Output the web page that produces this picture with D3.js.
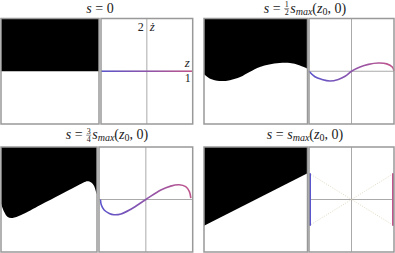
<!DOCTYPE html>
<html>
<head>
<meta charset="utf-8">
<script src="https://cdn.jsdelivr.net/npm/d3@7"></script>
<style>
  body { margin: 0; background: #fff; }
</style>
</head>
<body>
<svg id="chart"></svg>
<script>
// boundary of the black region in each left image: [x (0..1), zdot]
const boundaryA = [[0, 0], [1, 0]];
const boundaryB = [[0, -0.11], [0.06, -0.28], [0.15, -0.37], [0.25, -0.34], [0.35, -0.22], [0.44, -0.03],
  [0.54, 0.16], [0.63, 0.26], [0.73, 0.31], [0.83, 0.31], [0.92, 0.23], [1, 0.10]];
const boundaryC = [[0, -0.15], [0.034, -0.48], [0.07, -0.67], [0.12, -0.70], [0.21, -0.59], [0.41, -0.21],
  [0.62, 0.19], [0.77, 0.48], [0.86, 0.65], [0.90, 0.70], [0.94, 0.65], [0.97, 0.51], [0.99, 0.29], [1, 0.21]];
const boundaryD = [[0, -1], [1, 1]];

// phase curves: [z, zdot]
const phaseA = [[-1, 0], [1, 0]];
const phaseB = [[-1, 0], [-0.86, -0.21], [-0.70, -0.31], [-0.51, -0.37], [-0.31, -0.31], [-0.15, -0.19],
  [0, 0], [0.2, 0.16], [0.4, 0.26], [0.63, 0.31], [0.83, 0.28], [0.96, 0.16], [1, 0.02]];
const phaseC = [[-0.97, 0], [-0.95, -0.21], [-0.89, -0.40], [-0.78, -0.53], [-0.68, -0.58], [-0.53, -0.55],
  [-0.32, -0.37], [0, 0], [0.32, 0.36], [0.53, 0.51], [0.71, 0.56], [0.85, 0.49], [0.93, 0.30], [0.96, 0.05]];
const edgesD = [[[-1, -1], [-1, 1]], [[1, -1], [1, 1]]];
const crossD = [[[-1, 1], [1, -1]], [[-1, -1], [1, 1]]];

const axisLabels = { top: "2", zdot: "ż", z: "z", right: "1" };

const width = 395, height = 253;
const svg = d3.select("#chart").attr("width", width).attr("height", height)
  .attr("font-family", "'Liberation Serif', 'DejaVu Serif', serif");
const border = "#999", axisCol = "#aaa";
const blue = "#5a55cc", pink = "#c2558c";
const ink = "#222";

const smaxParts = [{ t: "s", i: true }, { t: "max", i: true, sub: true }, { t: "(" }, { t: "z", i: true }, { t: "0", sub: true }, { t: ", 0)" }];

const panels = [
  { key: "A", img: [1, 99], plot: [101, 192.7], y: [18.5, 124], title: [100, 12.5], bnd: boundaryA, phase: phaseA,
    titleParts: [{ t: "s", i: true }, { t: " = 0" }] },
  { key: "B", img: [204, 307.5], plot: [309, 394], y: [18.5, 124], title: [305, 12.5], bnd: boundaryB, phase: phaseB,
    titleParts: [{ t: "s", i: true }, { t: " = " }, { frac: ["1", "2"] }].concat(smaxParts) },
  { key: "C", img: [1, 97], plot: [99, 192.7], y: [147, 252], title: [107, 139], bnd: boundaryC, phase: phaseC,
    titleParts: [{ t: "s", i: true }, { t: " = " }, { frac: ["3", "4"] }].concat(smaxParts) },
  { key: "D", img: [204, 307.5], plot: [309, 394], y: [147, 252], title: [305, 138.5], bnd: boundaryD, phase: null,
    titleParts: [{ t: "s", i: true }, { t: " = " }].concat(smaxParts) }
];

const defs = svg.append("defs");

function drawTitle(parts, cx, baseline) {
  const g = svg.append("g");
  let x = 0;
  parts.forEach(p => {
    if (p.frac) {
      const n = g.append("text").attr("x", x + 0.5).attr("y", baseline - 5.3).attr("font-size", 8).attr("fill", ink).text(p.frac[0]);
      const d = g.append("text").attr("x", x + 0.5).attr("y", baseline + 2.8).attr("font-size", 8).attr("fill", ink).text(p.frac[1]);
      const w = Math.max(n.node().getComputedTextLength(), d.node().getComputedTextLength());
      g.append("line").attr("x1", x).attr("x2", x + w + 1).attr("y1", baseline - 3.8).attr("y2", baseline - 3.8)
        .attr("stroke", ink).attr("stroke-width", 0.5);
      x += w + 2;
    } else {
      const t = g.append("text").attr("x", x).attr("y", p.sub ? baseline + 2.4 : baseline)
        .attr("font-size", p.sub ? 10 : 14).attr("font-style", p.i ? "italic" : "normal")
        .attr("fill", ink).attr("xml:space", "preserve").text(p.t);
      x += t.node().getComputedTextLength();
    }
  });
  g.attr("transform", `translate(${cx - x / 2},0)`);
}

panels.forEach(p => {
  const xImg = d3.scaleLinear().domain([0, 1]).range(p.img);
  const yScale = d3.scaleLinear().domain([-2, 2]).range([p.y[1], p.y[0]]);
  const xPlot = d3.scaleLinear().domain([-1, 1]).range(p.plot);

  // left image: black above the boundary
  defs.append("clipPath").attr("id", "clip" + p.key).append("rect")
    .attr("x", p.img[0]).attr("y", p.y[0]).attr("width", p.img[1] - p.img[0]).attr("height", p.y[1] - p.y[0]);
  const area = d3.area().x(d => xImg(d[0])).y0(p.y[0]).y1(d => yScale(d[1])).curve(d3.curveCatmullRom);
  svg.append("path").datum(p.bnd).attr("d", area).attr("fill", "#000").attr("clip-path", `url(#clip${p.key})`);
  svg.append("rect").attr("x", p.img[0]).attr("y", p.y[0]).attr("width", p.img[1] - p.img[0]).attr("height", p.y[1] - p.y[0])
    .attr("fill", "none").attr("stroke", border).attr("stroke-width", 1.5);

  // right plot: axes
  svg.append("line").attr("x1", xPlot(0)).attr("x2", xPlot(0)).attr("y1", p.y[0]).attr("y2", p.y[1])
    .attr("stroke", axisCol).attr("stroke-width", 1);
  svg.append("line").attr("x1", p.plot[0]).attr("x2", p.plot[1]).attr("y1", yScale(0)).attr("y2", yScale(0))
    .attr("stroke", axisCol).attr("stroke-width", 1);

  const grad = defs.append("linearGradient").attr("id", "grad" + p.key).attr("gradientUnits", "userSpaceOnUse")
    .attr("x1", p.plot[0]).attr("x2", p.plot[1]).attr("y1", 0).attr("y2", 0);
  grad.append("stop").attr("offset", "0%").attr("stop-color", blue);
  grad.append("stop").attr("offset", "100%").attr("stop-color", pink);

  const line = d3.line().x(d => xPlot(d[0])).y(d => yScale(d[1])).curve(d3.curveCatmullRom);
  if (p.phase) {
    svg.append("path").datum(p.phase).attr("d", line).attr("fill", "none")
      .attr("stroke", `url(#grad${p.key})`).attr("stroke-width", 1.6);
  } else {
    svg.selectAll(".cross" + p.key).data(crossD).join("path").attr("class", "cross" + p.key)
      .attr("d", d3.line().x(d => xPlot(d[0])).y(d => yScale(d[1]))).attr("fill", "none")
      .attr("stroke", "#d8cfb4").attr("stroke-width", 0.8).attr("stroke-dasharray", "1,1.5");
    svg.selectAll(".edge" + p.key).data(edgesD).join("path").attr("class", "edge" + p.key)
      .attr("d", d3.line().x(d => xPlot(d[0]) + (d[0] < 0 ? 1 : -1)).y(d => yScale(d[1]))).attr("fill", "none")
      .attr("stroke", (d, i) => i === 0 ? blue : pink).attr("stroke-width", 2);
  }
  svg.append("rect").attr("x", p.plot[0]).attr("y", p.y[0]).attr("width", p.plot[1] - p.plot[0]).attr("height", p.y[1] - p.y[0])
    .attr("fill", "none").attr("stroke", border).attr("stroke-width", 1.5);

  drawTitle(p.titleParts, p.title[0], p.title[1]);

  if (p.key === "A") {
    svg.append("text").attr("x", xPlot(0) - 3).attr("y", p.y[0] + 12).attr("text-anchor", "end")
      .attr("font-size", 12).attr("fill", ink).text(axisLabels.top);
    svg.append("text").attr("x", xPlot(0) + 3).attr("y", p.y[0] + 12)
      .attr("font-size", 13).attr("font-style", "italic").attr("fill", ink).text(axisLabels.zdot);
    svg.append("text").attr("x", p.plot[1] - 3).attr("y", yScale(0) - 4).attr("text-anchor", "end")
      .attr("font-size", 13).attr("font-style", "italic").attr("fill", ink).text(axisLabels.z);
    svg.append("text").attr("x", p.plot[1] - 2).attr("y", yScale(0) + 11).attr("text-anchor", "end")
      .attr("font-size", 12).attr("fill", ink).text(axisLabels.right);
  }
});
</script>
</body>
</html>
